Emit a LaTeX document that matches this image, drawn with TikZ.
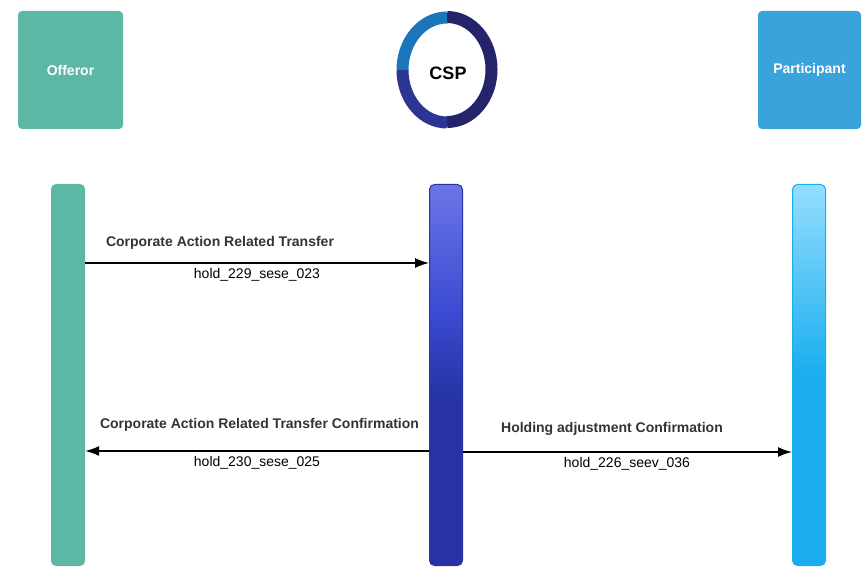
\documentclass[tikz,border=0pt]{standalone}
\usepackage{fontspec}
\setmainfont{Liberation Sans}
\usetikzlibrary{arrows.meta,positioning}
\definecolor{tealbox}{HTML}{5CB8A5}
\definecolor{bluebox}{HTML}{3AA3DC}
\definecolor{darkring}{HTML}{252369}
\definecolor{midring}{HTML}{2A3594}
\definecolor{lightring}{HTML}{1B75BB}
\definecolor{bluebar}{HTML}{1AAEEF}
\definecolor{cspbar}{HTML}{2733A5}
\definecolor{msgtext}{HTML}{333333}
\pgfdeclareverticalshading{cspshade}{100bp}{rgb(0bp)=(0.153,0.2,0.647);rgb(25bp)=(0.153,0.2,0.647);rgb(47bp)=(0.153,0.2,0.647);rgb(58bp)=(0.23,0.29,0.82);rgb(75bp)=(0.42,0.46,0.91);rgb(100bp)=(0.42,0.46,0.91)}
\pgfdeclareverticalshading{partshade}{100bp}{rgb(0bp)=(0.10,0.68,0.94);rgb(25bp)=(0.10,0.68,0.94);rgb(50bp)=(0.10,0.68,0.94);rgb(75bp)=(0.58,0.87,1);rgb(100bp)=(0.58,0.87,1)}
\tikzset{
  actor/.style={rectangle,rounded corners=4pt,inner sep=0pt,text=white,font=\bfseries\fontsize{14}{16}\selectfont},
  lifebar/.style={rectangle,rounded corners=5pt,inner sep=0pt,minimum width=34pt,minimum height=382pt},
  msg/.style={-{Latex[length=14pt,width=10pt]},line width=1.5pt},
  title/.style={inner sep=0pt,text=msgtext,font=\bfseries\fontsize{14}{16}\selectfont},
  sub/.style={inner sep=0pt,font=\fontsize{14}{16}\selectfont},
}
\begin{document}
\begin{tikzpicture}[x=1pt,y=1pt]
\useasboundingbox (0,0) rectangle (865,566);
% heads
\node (offeror) [actor,fill=tealbox,minimum width=105pt,minimum height=118pt] at (70.5,496) {Offeror};
\node (participant) [actor,fill=bluebox,minimum width=103pt,minimum height=118pt] at (809.5,496) {Participant};
\draw[line width=12pt,darkring] (447,549) arc (90:-90:44.5pt and 52.5pt);
\draw[line width=12pt,midring] (447,443.5) arc (270:180:44.5pt and 52.5pt);
\draw[line width=12pt,lightring] (402.5,496) arc (180:90:44.5pt and 52.5pt);
\node (csp) [inner sep=0pt,font=\bfseries\fontsize{18}{20}\selectfont] at (448,493) {CSP};
% bars
\node (offerorbar) [lifebar,fill=tealbox] at (68,191) {};
\node (cspbar) [lifebar,shading=cspshade,draw=cspbar,line width=1pt,minimum width=33pt,minimum height=381pt] at (446,191) {};
\node (partbar) [lifebar,shading=partshade,draw=bluebar,line width=1pt,minimum width=33pt,minimum height=381pt] at (809,191) {};
% levels
\coordinate (m1) at (0,303);
\coordinate (m2) at (0,115);
\coordinate (m3) at (0,114);
% messages
\path[msg,draw] (offerorbar.east |- m1) -- (cspbar.west |- m1);
\path[msg,draw] (cspbar.west |- m2) -- (offerorbar.east |- m2);
\path[msg,draw] (cspbar.east |- m3) -- (partbar.west |- m3);
% labels
\node (t1) [title] at (220,323) {Corporate Action Related Transfer};
\node (s1) [sub] at (257,291) {hold\_229\_sese\_023};
\node (t2) [title] at (259.5,141) {Corporate Action Related Transfer Confirmation};
\node (s2) [sub] at (257,103) {hold\_230\_sese\_025};
\node (t3) [title] at (612,137) {Holding adjustment Confirmation};
\node (s3) [sub] at (627,102) {hold\_226\_seev\_036};
\end{tikzpicture}
\end{document}
